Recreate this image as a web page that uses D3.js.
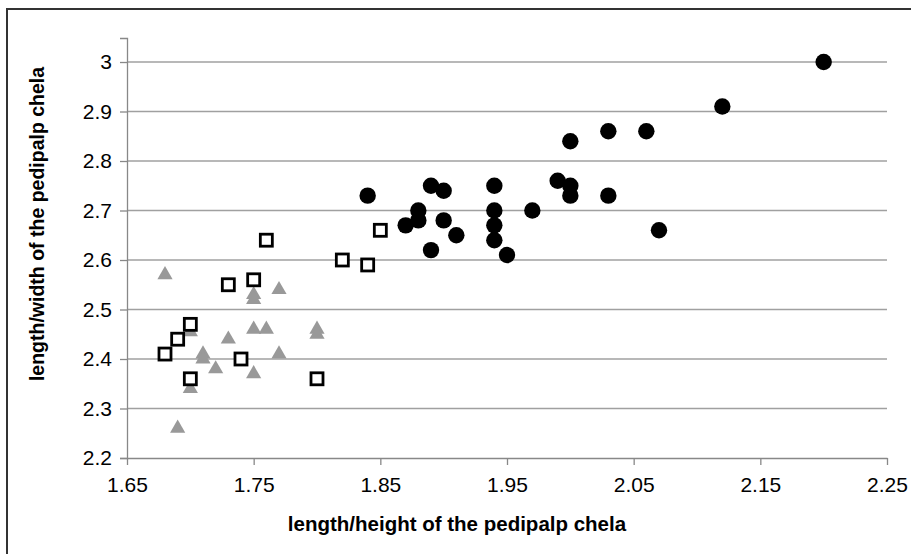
<!DOCTYPE html>
<html>
<head>
<meta charset="utf-8">
<script src="https://cdn.jsdelivr.net/npm/d3@7"></script>
<style>
html,body{margin:0;padding:0;background:#fff;}
svg{display:block;}
text{font-family:"Liberation Sans",Arial,sans-serif;fill:#000;}
</style>
</head>
<body>
<svg id="chart" width="911" height="554"></svg>
<script>
// Data
const circleX = [1.84,1.87,1.88,1.88,1.89,1.89,1.90,1.90,1.91,1.94,1.94,1.94,1.94,1.95,1.97,1.99,2.00,2.00,2.00,2.03,2.03,2.06,2.07,2.12,2.20];
const circleY = [2.73,2.67,2.70,2.68,2.75,2.62,2.74,2.68,2.65,2.75,2.70,2.67,2.64,2.61,2.70,2.76,2.84,2.75,2.73,2.86,2.73,2.86,2.66,2.91,3.00];
const squareX = [1.68,1.69,1.70,1.70,1.73,1.74,1.75,1.76,1.80,1.82,1.84,1.85];
const squareY = [2.41,2.44,2.47,2.36,2.55,2.40,2.56,2.64,2.36,2.60,2.59,2.66];
const triangleX = [1.68,1.69,1.70,1.70,1.71,1.71,1.72,1.73,1.75,1.75,1.75,1.75,1.76,1.77,1.77,1.80,1.80];
const triangleY = [2.57,2.26,2.455,2.34,2.41,2.40,2.38,2.44,2.53,2.52,2.46,2.37,2.46,2.54,2.41,2.46,2.45];
const xTicks = [1.65,1.75,1.85,1.95,2.05,2.15,2.25];
const yTicks = [2.2,2.3,2.4,2.5,2.6,2.7,2.8,2.9,3.0];
const xTitle = "length/height of the pedipalp chela";
const yTitle = "length/width of the pedipalp chela";

(function(){
const svg = d3.select("#chart");
const mLeft = 127, mRight = 887, mTop = 38, mBottom = 458;
const x = d3.scaleLinear().domain([1.65, 2.25]).range([mLeft, mRight]);
const y = d3.scaleLinear().domain([2.2, 3.0485]).range([mBottom, mTop]);

// outer frame
svg.append("path")
  .attr("d", `M7,560 L7,9 L920,9`)
  .attr("fill","none").attr("stroke","#333").attr("stroke-width",2);

// gridlines
svg.append("g").selectAll("line").data(yTicks.filter(d=>d>2.2)).join("line")
  .attr("x1", mLeft).attr("x2", mRight)
  .attr("y1", d=>y(d)).attr("y2", d=>y(d))
  .attr("stroke","#a0a0a0").attr("stroke-width",1.3);

// y axis
const yAxis = d3.axisLeft(y).tickValues(yTicks).tickSize(7).tickPadding(8)
  .tickFormat(d => String(+d.toFixed(1)));
const gy = svg.append("g").attr("transform",`translate(${mLeft},0)`).call(yAxis)
  .attr("font-size",21).attr("font-family","Liberation Sans, Arial, sans-serif");
gy.select(".domain").attr("stroke","#888").attr("stroke-width",1.3);
gy.selectAll(".tick line").attr("stroke","#888").attr("stroke-width",1.3);
gy.selectAll(".tick text").attr("fill","#000");

// x axis
const xAxis = d3.axisBottom(x).tickValues(xTicks).tickSize(7).tickPadding(12)
  .tickSizeOuter(0).tickFormat(d3.format(".2f"));
const gx = svg.append("g").attr("transform",`translate(0,${mBottom})`).call(xAxis)
  .attr("font-size",21).attr("font-family","Liberation Sans, Arial, sans-serif");
gx.select(".domain").attr("stroke","#888").attr("stroke-width",1.3);
gx.selectAll(".tick line").attr("stroke","#888").attr("stroke-width",1.3);
gx.selectAll(".tick text").attr("fill","#000");

// titles
svg.append("text").attr("x",457).attr("y",531).attr("text-anchor","middle")
  .attr("font-size",20.5).attr("font-weight","bold").text(xTitle);
svg.append("text").attr("transform","translate(44,224) rotate(-90)").attr("text-anchor","middle")
  .attr("font-size",19.5).attr("font-weight","bold").text(yTitle);

// triangles
const tri = d3.symbol().type(d3.symbolTriangle).size(100);
svg.append("g").selectAll("path").data(triangleX.map((d,i)=>[d,triangleY[i]])).join("path")
  .attr("d", tri)
  .attr("transform", d=>`translate(${x(d[0])},${y(d[1])})`)
  .attr("fill","#999");

// squares
svg.append("g").selectAll("rect").data(squareX.map((d,i)=>[d,squareY[i]])).join("rect")
  .attr("x", d=>x(d[0])-6).attr("y", d=>y(d[1])-6)
  .attr("width",12).attr("height",12)
  .attr("fill","#fff").attr("stroke","#000").attr("stroke-width",2.8);

// circles
svg.append("g").selectAll("circle").data(circleX.map((d,i)=>[d,circleY[i]])).join("circle")
  .attr("cx", d=>x(d[0])).attr("cy", d=>y(d[1])).attr("r",8.2)
  .attr("fill","#000");
})();
</script>
</body>
</html>
